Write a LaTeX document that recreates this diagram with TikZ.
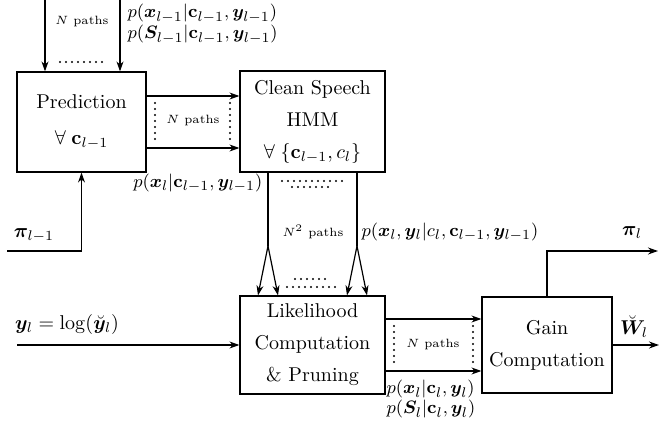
\documentclass[tikz,border=0pt]{standalone}
\usepackage{amsmath}
\usepackage{amssymb}
\usepackage{bm}
\usetikzlibrary{arrows.meta}
\newcommand*{\vb}[1]{\bm{#1}}
\newcommand*{\vc}{\mathbf{c}}

\begin{document}
\begin{tikzpicture}[x=0.5pt, y=-0.5pt, line width=0.6pt,
    blk/.style={draw, align=center, font=\fontsize{10}{16}\selectfont, inner sep=0pt},
    arr/.style={-{Stealth[length=5pt, width=3.5pt]}},
    small/.style={font=\fontsize{6}{7}\selectfont, inner sep=1pt},
    io/.style={inner sep=1pt},
    plbl/.style={font=\fontsize{9.5}{8.8}\selectfont, align=left, inner sep=0pt},
    dotrow/.style={line width=1.1pt, line cap=round, dash pattern=on 0pt off 3pt}]
        \useasboundingbox (0,0) rectangle (659,422);

        % blocks
        \node[blk, minimum width=64.5pt, minimum height=50pt] (pred) at (81.5,122)
            {Prediction\\[2pt]$\forall\;\vc_{l-1}$};
        \node[blk, minimum width=72.5pt, minimum height=50.5pt] (hmm) at (312.5,121.5)
            {Clean Speech\\HMM\\$\forall\;\{\vc_{l-1},c_l\}$};
        \node[blk, minimum width=72.5pt, minimum height=49pt] (lik) at (312.5,345)
            {Likelihood\\Computation\\\& Pruning};
        \node[blk, minimum width=65pt, minimum height=48pt] (gain) at (547,345)
            {Gain\\Computation};

        % inputs into prediction
        \coordinate (in1) at (45,0);
        \coordinate (in2) at (120,0);
        \draw[arr] (in1) -- (in1 |- pred.north);
        \draw[arr] (in2) -- (in2 |- pred.north);
        \draw[dotrow] (60,62) -- (104,62);
        \node[small] (np1) at (82,22) {$N$ paths};
        \node[plbl, anchor=west] (pprev) at (127,24)
            {$p(\vb{x}_{l-1}|\vc_{l-1},\vb{y}_{l-1})$\\$p(\vb{S}_{l-1}|\vc_{l-1},\vb{y}_{l-1})$};

        \coordinate (pin) at (7,251);
        \draw[arr] (pin) -| (pred.south);
        \node[io] (pilm) at (34,235) {$\vb{\pi}_{l-1}$};

        % prediction to hmm
        \coordinate (ph1) at (0,96);
        \coordinate (ph2) at (0,148);
        \draw[arr] (pred.east |- ph1) -- (hmm.west |- ph1);
        \draw[arr] (pred.east |- ph2) -- (hmm.west |- ph2);
        \draw[dotrow] (155,103) -- (155,141);
        \draw[dotrow] (230,103) -- (230,141);
        \node[small] (np2) at (193,121) {$N$ paths};
        \node[plbl, anchor=east] (ppred) at (263,183) {$p(\vb{x}_l|\vc_{l-1},\vb{y}_{l-1})$};

        % hmm to likelihood
        \coordinate (s1) at (268,246);
        \coordinate (s2) at (357,246);
        \draw (s1 |- hmm.south) -- (s1);
        \draw (s2 |- hmm.south) -- (s2);
        \draw[arr] (s1) -- ([xshift=-5pt]s1 |- lik.north);
        \draw[arr] (s1) -- ([xshift=5pt]s1 |- lik.north);
        \draw[arr] (s2) -- ([xshift=-5pt]s2 |- lik.north);
        \draw[arr] (s2) -- ([xshift=5pt]s2 |- lik.north);
        \draw[dotrow] (282,181) -- (344,181);
        \draw[dotrow] (292,187) -- (334,187);
        \draw[dotrow] (295,279) -- (329,279);
        \draw[dotrow] (287,287) -- (338,287);
        \node[small] (np3) at (313,232) {$N^2$ paths};
        \node[plbl, anchor=west] (phmm) at (361,232) {$p(\vb{x}_l,\vb{y}_l|c_l,\vc_{l-1},\vb{y}_{l-1})$};

        % observation input
        \coordinate (yin) at (17,345);
        \draw[arr] (yin) -- (lik.west);
        \node[io] (ylbl) at (67,325) {$\vb{y}_l=\log(\breve{\vb{y}}_l)$};

        % likelihood to gain
        \coordinate (lg1) at (0,319);
        \coordinate (lg2) at (0,371);
        \draw[arr] (lik.east |- lg1) -- (gain.west |- lg1);
        \draw[arr] (lik.east |- lg2) -- (gain.west |- lg2);
        \draw[dotrow] (394,326) -- (394,365);
        \draw[dotrow] (473,326) -- (473,365);
        \node[small] (np4) at (433,345) {$N$ paths};
        \node[plbl, anchor=west] (plik) at (386,399)
            {$p(\vb{x}_l|\vc_l,\vb{y}_l)$\\$p(\vb{S}_l|\vc_l,\vb{y}_l)$};

        % outputs
        \coordinate (piout) at (658,251);
        \coordinate (wout) at (659,345);
        \draw[arr] (gain.north) |- (piout);
        \draw[arr] (gain.east) -- (wout);
        \node[io] (pil) at (632,233) {$\vb{\pi}_l$};
        \node[io] (wl) at (634,327) {$\breve{\vb{W}}_l$};
    \end{tikzpicture}
\end{document}
